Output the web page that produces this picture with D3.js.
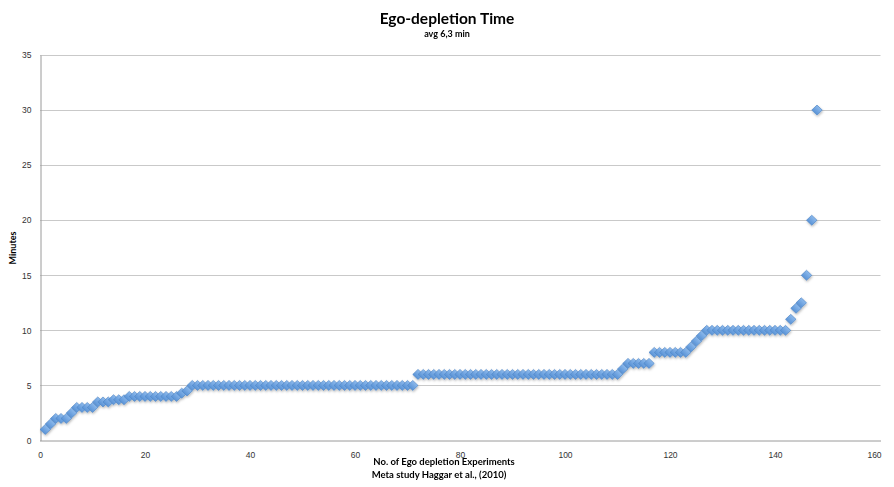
<!DOCTYPE html>
<html>
<head>
<meta charset="utf-8">
<script src="https://cdn.jsdelivr.net/npm/d3@7"></script>
<style>
  html, body { margin: 0; padding: 0; background: #fff; }
  svg { display: block; font-family: Lato, "Open Sans", sans-serif; }
</style>
</head>
<body>
<svg id="chart" width="894" height="487"></svg>
<script>
// ---- data ----
const title = "Ego-depletion Time";
const subtitle = "avg 6,3 min";
const xTitle1 = "No. of Ego depletion Experiments";
const xTitle2 = "Meta study Haggar et al., (2010)";
const yTitle = "Minutes";
const xTicks = [0, 20, 40, 60, 80, 100, 120, 140, 160];
const yTicks = [0, 5, 10, 15, 20, 25, 30, 35];
// experiment durations (minutes), sorted, experiments 1..148
const minutes = [
  1, 1.5, 2, 2, 2, 2.5, 3, 3, 3, 3,
  3.5, 3.5, 3.5, 3.7, 3.7, 3.7,
  4, 4, 4, 4, 4, 4, 4, 4, 4, 4,
  4.3, 4.5,
  5, 5, 5, 5, 5, 5, 5, 5, 5, 5, 5, 5, 5, 5, 5, 5, 5, 5, 5, 5, 5, 5,
  5, 5, 5, 5, 5, 5, 5, 5, 5, 5, 5, 5, 5, 5, 5, 5, 5, 5, 5, 5, 5,
  6, 6, 6, 6, 6, 6, 6, 6, 6, 6, 6, 6, 6, 6, 6, 6, 6, 6, 6, 6,
  6, 6, 6, 6, 6, 6, 6, 6, 6, 6, 6, 6, 6, 6, 6, 6, 6, 6, 6,
  6.5, 7, 7, 7, 7, 7,
  8, 8, 8, 8, 8, 8, 8,
  8.5, 9, 9.5,
  10, 10, 10, 10, 10, 10, 10, 10, 10, 10, 10, 10, 10, 10, 10, 10,
  11, 12, 12.5, 15, 20, 30
];
const points = minutes.map((v, i) => ({ n: i + 1, v }));

// ---- layout ----
const svg = d3.select("#chart");
const plotL = 40, plotR = 880, plotT = 55, plotB = 440.5;
const x = d3.scaleLinear().domain([0, 160]).range([plotL, plotR]);
const y = d3.scaleLinear().domain([0, 35]).range([plotB, plotT]);

const defs = svg.append("defs");
const f = defs.append("filter").attr("id", "shadow").attr("x", "-50%").attr("y", "-50%").attr("width", "200%").attr("height", "200%");
f.append("feDropShadow").attr("dx", 0.6).attr("dy", 1.4).attr("stdDeviation", 0.9).attr("flood-color", "#000").attr("flood-opacity", 0.28);
const grad = defs.append("linearGradient").attr("id", "mk").attr("x1", 0).attr("y1", 0).attr("x2", 0).attr("y2", 1);
grad.append("stop").attr("offset", "0%").attr("stop-color", "#8cb9ec");
grad.append("stop").attr("offset", "100%").attr("stop-color", "#5a93d6");

// gridlines
svg.append("g")
  .selectAll("line").data(yTicks.filter(d => d > 0)).join("line")
  .attr("x1", plotL).attr("x2", plotR + 0.5)
  .attr("y1", d => Math.round(y(d)) + 0.5).attr("y2", d => Math.round(y(d)) + 0.5)
  .attr("stroke", "#c9c9c9").attr("stroke-width", 1);

// axes
const yAxis = d3.axisLeft(y).tickValues(yTicks).tickSize(0).tickPadding(9);
const gy = svg.append("g").attr("transform", `translate(${plotL + 0.5},0)`).call(yAxis);
gy.select(".domain").attr("stroke", "#9a9a9a");
gy.selectAll("text").attr("font-size", 8.5).attr("fill", "#333");

const xAxis = d3.axisBottom(x).tickValues(xTicks).tickSize(0).tickPadding(11);
const gx = svg.append("g").attr("transform", `translate(0,${plotB})`).call(xAxis);
gx.select(".domain").attr("stroke", "#9a9a9a").attr("d", `M${plotL},0.5H${plotR + 1}`);
gx.selectAll("text").attr("font-size", 8.5).attr("fill", "#333");
gx.selectAll(".tick").filter(d => d === 160).select("text").attr("dx", -6);

// markers: rotated squares (diamonds ~10px across)
const diamond = d3.symbol().type(d3.symbolSquare).size(50);
svg.append("g").attr("filter", "url(#shadow)")
  .selectAll("path").data(points).join("path")
  .attr("d", diamond)
  .attr("transform", d => `translate(${x(d.n)},${y(d.v)}) scale(1.05,1) rotate(45)`)
  .attr("fill", "url(#mk)")
  .attr("stroke", "#4f86c6").attr("stroke-width", 0.6);

// titles
svg.append("text").attr("x", 447).attr("y", 24).attr("text-anchor", "middle")
  .attr("font-size", 15.5).attr("font-weight", "bold").attr("fill", "#000").text(title);
svg.append("text").attr("x", 447).attr("y", 37).attr("text-anchor", "middle")
  .attr("font-size", 9).attr("font-weight", "bold").attr("fill", "#000").text(subtitle);
svg.append("text").attr("x", 444).attr("y", 465).attr("text-anchor", "middle")
  .attr("font-size", 9.5).attr("font-weight", "bold").attr("fill", "#000").text(xTitle1);
svg.append("text").attr("x", 439).attr("y", 477.5).attr("text-anchor", "middle")
  .attr("font-size", 9.5).attr("font-weight", "bold").attr("fill", "#000").text(xTitle2);
svg.append("text").attr("transform", "translate(16,248) rotate(-90)").attr("text-anchor", "middle")
  .attr("font-size", 9).attr("font-weight", "bold").attr("fill", "#000").text(yTitle);
</script>
</body>
</html>
